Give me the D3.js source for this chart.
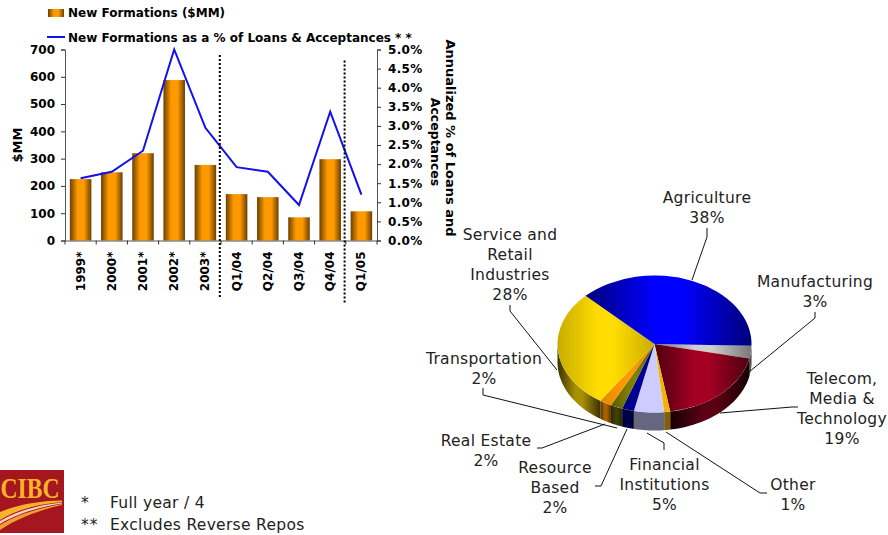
<!DOCTYPE html>
<html>
<head>
<meta charset="utf-8">
<script src="https://cdn.jsdelivr.net/npm/d3@7"></script>
<style>
  html, body { margin: 0; padding: 0; background: #fff; }
  svg { display: block; }
  text { font-family: "DejaVu Sans", Verdana, sans-serif; fill: #000; }
  .bold { font-weight: bold; font-size: 12px; }
  .pieLabel { font-size: 15.5px; letter-spacing: 0.3px; fill: #222; text-anchor: middle; }
  .note { font-size: 15.5px; letter-spacing: 0.3px; fill: #222; }
</style>
</head>
<body>
<svg id="chart" width="888" height="535"></svg>
<script>
// bar + line chart
var periods = ['1999*', '2000*', '2001*', '2002*', '2003*', 'Q1/04', 'Q2/04', 'Q3/04', 'Q4/04', 'Q1/05'];
var newFormations = [225, 250, 320, 588, 277, 170, 159, 85, 298, 107];
var pctOfLoans = [1.63, 1.8, 2.35, 5.0, 2.95, 1.92, 1.8, 0.93, 3.37, 1.2];
var leftTicks = [0, 100, 200, 300, 400, 500, 600, 700];
var rightTicks = [0, 0.5, 1, 1.5, 2, 2.5, 3, 3.5, 4, 4.5, 5];

// pie, clockwise from the east side
var sectors = ['Manufacturing', 'Telecom', 'Other', 'Financial', 'Resource', 'RealEstate', 'Transportation', 'Service', 'Agriculture'];
var sectorShare = [3, 19, 1, 5, 2, 2, 2, 28, 38];
var sectorBright = ['#cfcfcf', '#a30022', '#f2b400', '#ccccff', '#000099', '#808000', '#ff9900', '#ffdd00', '#0000ff'];
var sectorEdge = ['#777777', '#4d0010', '#f2b400', '#ccccff', '#000077', '#5a5a00', '#e08800', '#c8ac00', '#00007a'];
var wallBright = ['#555555', '#5c0014', '#80600a', '#66667f', '#00004d', '#404000', '#a86400', '#a89000', '#00007a'];
var wallEdge = ['#222222', '#160004', '#80600a', '#66667f', '#000033', '#282800', '#5a3400', '#3a3000', '#000040'];

var pieLabels = [
  { lines: ['Agriculture', '38%'], x: 707, y: 203 },
  { lines: ['Manufacturing', '3%'], x: 815, y: 287 },
  { lines: ['Telecom,', 'Media &', 'Technology', '19%'], x: 842, y: 384 },
  { lines: ['Other', '1%'], x: 793, y: 490 },
  { lines: ['Financial', 'Institutions', '5%'], x: 664.5, y: 470 },
  { lines: ['Resource', 'Based', '2%'], x: 555, y: 473 },
  { lines: ['Real Estate', '2%'], x: 486, y: 446 },
  { lines: ['Transportation', '2%'], x: 484, y: 364 },
  { lines: ['Service and', 'Retail', 'Industries', '28%'], x: 510, y: 240 }
];

var leaders = [
  [[692, 280], [707, 237], [707, 228]],
  [[749, 372], [815, 318], [815, 312]],
  [[720, 413], [792, 407], [798, 407]],
  [[666, 432], [760, 493], [767, 493]],
  [[647, 433], [664, 443], [664, 450]],
  [[627, 429], [601, 486], [595, 486]],
  [[605, 424], [542, 448], [537, 448]],
  [[617, 428], [483, 395], [483, 388]],
  [[557, 370], [510, 311], [510, 305]]
];

var svg = d3.select('#chart');
var defs = svg.append('defs');

function addGradient(id, edge, bright, from, to) {
  var g = defs.append('linearGradient').attr('id', id).attr('x1', 0).attr('x2', 1).attr('y1', 0).attr('y2', 0);
  g.append('stop').attr('offset', 0).attr('stop-color', edge);
  g.append('stop').attr('offset', from).attr('stop-color', bright);
  g.append('stop').attr('offset', to).attr('stop-color', bright);
  g.append('stop').attr('offset', 1).attr('stop-color', edge);
}

// --- bars and line ---
var margin = { left: 65, right: 377, top: 49.5, bottom: 240.5 };

var x = d3.scaleBand().domain(periods).range([margin.left, margin.right]).paddingInner(0.31).paddingOuter(0.155);
var yLeft = d3.scaleLinear().domain([0, 700]).range([margin.bottom, margin.top]);
var yRight = d3.scaleLinear().domain([0, 5]).range([margin.bottom, margin.top]);

addGradient('barFill', '#6b4000', '#ff9900', 0.36, 0.66);

svg.selectAll('.bar')
  .data(newFormations)
  .enter().append('rect')
  .attr('class', 'bar')
  .attr('x', function(d, i) { return x(periods[i]); })
  .attr('y', function(d) { return yLeft(d); })
  .attr('width', x.bandwidth())
  .attr('height', function(d) { return yLeft(0) - yLeft(d); })
  .attr('fill', 'url(#barFill)');

var line = d3.line()
  .x(function(d, i) { return x(periods[i]) + x.bandwidth() / 2; })
  .y(function(d) { return yRight(d); });

svg.append('path')
  .datum(pctOfLoans)
  .attr('d', line)
  .attr('fill', 'none')
  .attr('stroke', '#1010f0')
  .attr('stroke-width', 2);

var leftAxis = svg.append('g')
  .attr('transform', 'translate(' + margin.left + ',0)')
  .call(d3.axisLeft(yLeft).tickValues(leftTicks).tickSize(4).tickPadding(6).tickFormat(d3.format('d')));

var rightAxis = svg.append('g')
  .attr('transform', 'translate(' + margin.right + ',0)')
  .call(d3.axisRight(yRight).tickValues(rightTicks).tickSize(4).tickPadding(7).tickFormat(function(d) { return d.toFixed(1) + '%'; }));

// category ticks sit between the bars, so the labels and the tick marks are separate
var bottomAxis = svg.append('g')
  .attr('transform', 'translate(0,' + margin.bottom + ')')
  .call(d3.axisBottom(x).tickSize(0).tickPadding(11));

bottomAxis.selectAll('text')
  .attr('transform', 'rotate(-90)')
  .attr('text-anchor', 'end')
  .attr('dx', '-11px')
  .attr('dy', '0')
  .attr('x', 0)
  .attr('y', 4);

bottomAxis.selectAll('.tickMark')
  .data(d3.range(periods.length + 1))
  .enter().append('line')
  .attr('class', 'tickMark')
  .attr('x1', function(d) { return margin.left + d * x.step(); })
  .attr('x2', function(d) { return margin.left + d * x.step(); })
  .attr('y1', 0)
  .attr('y2', 4)
  .attr('stroke', '#333');

[leftAxis, rightAxis, bottomAxis].forEach(function(a) {
  a.attr('font-family', null).attr('font-size', null);
  a.selectAll('text').attr('class', 'bold');
  a.selectAll('.domain').attr('stroke', '#555');
  a.selectAll('.tick line').attr('stroke', '#333');
});
rightAxis.selectAll('text').style('letter-spacing', '0.3px');

// dotted separators
[[5, 55, 299], [9, 60.5, 304]].forEach(function(s) {
  svg.append('line')
    .attr('x1', margin.left + s[0] * x.step() - 1.2)
    .attr('x2', margin.left + s[0] * x.step() - 1.2)
    .attr('y1', s[1])
    .attr('y2', s[2])
    .attr('stroke', '#000')
    .attr('stroke-width', 2)
    .attr('stroke-dasharray', '2 2');
});

// axis titles
svg.append('text').attr('class', 'bold')
  .style('font-size', '13px')
  .attr('transform', 'translate(21.5,145) rotate(-90)')
  .attr('text-anchor', 'middle')
  .text('$MM');

svg.append('text').attr('class', 'bold')
  .style('font-size', '13px')
  .attr('transform', 'translate(446,138) rotate(90)')
  .attr('text-anchor', 'middle')
  .text('Annualized % of Loans and');

svg.append('text').attr('class', 'bold')
  .style('font-size', '12.5px')
  .attr('transform', 'translate(431,142) rotate(90)')
  .attr('text-anchor', 'middle')
  .text('Acceptances');

// legend
svg.append('rect')
  .attr('x', 48).attr('y', 9).attr('width', 16).attr('height', 8)
  .attr('fill', 'url(#barFill)');
svg.append('text').attr('class', 'bold').attr('x', 68).attr('y', 17).text('New Formations ($MM)');

svg.append('line')
  .attr('x1', 47).attr('x2', 65).attr('y1', 37).attr('y2', 37)
  .attr('stroke', '#1010f0').attr('stroke-width', 2);
svg.append('text').attr('class', 'bold').attr('x', 68).attr('y', 42).text('New Formations as a % of Loans & Acceptances * *');

// --- 3D pie ---
var cx = 654.5, cy = 344, rx = 97, ry = 68.5, depth = 18;

var pie = d3.pie().sort(null)
  .startAngle(Math.PI / 2 + 0.026)
  .endAngle(Math.PI * 2.5 + 0.026);
var slices = pie(sectorShare);

sectors.forEach(function(name, i) {
  addGradient('top' + name, sectorEdge[i], sectorBright[i], 0.42, 0.58);
  addGradient('wall' + name, wallEdge[i], wallBright[i], 0.42, 0.58);
});

var wall = d3.area()
  .x(function(a) { return cx + rx * Math.sin(a); })
  .y0(function(a) { return cy - ry * Math.cos(a); })
  .y1(function(a) { return cy - ry * Math.cos(a) + depth; });

// only the front half of the rim shows (d3 angles between 90 and 270 degrees)
slices.forEach(function(s, i) {
  var from = Math.max(s.startAngle, Math.PI / 2);
  var to = Math.min(s.endAngle, Math.PI * 1.5);
  if (to <= from) return;
  svg.append('path')
    .attr('d', wall(d3.range(0, 25).map(function(k) { return from + (to - from) * k / 24; })))
    .attr('fill', 'url(#wall' + sectors[i] + ')');
});

var arc = d3.arc().innerRadius(0).outerRadius(rx);

var pieGroup = svg.append('g')
  .attr('transform', 'translate(' + cx + ',' + cy + ') scale(1,' + (ry / rx) + ')');

pieGroup.selectAll('.slice')
  .data(slices)
  .enter().append('path')
  .attr('class', 'slice')
  .attr('d', arc)
  .attr('fill', function(d, i) { return 'url(#top' + sectors[i] + ')'; });

// leaders
var leaderLine = d3.line();
leaders.forEach(function(l) {
  svg.append('path').attr('d', leaderLine(l)).attr('fill', 'none').attr('stroke', '#111').attr('stroke-width', 1);
});

// pie labels
pieLabels.forEach(function(l) {
  var t = svg.append('text').attr('class', 'pieLabel').attr('x', l.x).attr('y', l.y);
  l.lines.forEach(function(s, i) {
    t.append('tspan').attr('x', l.x).attr('dy', i === 0 ? 0 : 20).text(s);
  });
});

// --- logo ---
var logo = svg.append('g');
logo.append('rect').attr('x', 0).attr('y', 470).attr('width', 64).attr('height', 63).attr('fill', '#a5161f');
logo.append('text')
  .attr('x', 0.5).attr('y', 498)
  .style('font-family', '"Liberation Serif", serif')
  .style('font-size', '30px')
  .style('font-weight', 'bold')
  .style('fill', '#f7b32b')
  .attr('textLength', 59)
  .attr('lengthAdjust', 'spacingAndGlyphs')
  .text('CIBC');
logo.append('path')
  .attr('d', 'M0,520 C18,509 40,504 62,502 L62,500.5 C38,501 16,505 0,512 Z')
  .attr('fill', '#f7b32b');
logo.append('path')
  .attr('d', 'M0,524 C18,513 40,507 62,503.5 L62,502.5 C40,505 18,510 0,521 Z')
  .attr('fill', '#f4d0c0');
logo.append('path')
  .attr('d', 'M0,530 C18,518 40,510 62,505 L62,504 C40,508 18,514 0,525 Z')
  .attr('fill', '#f0a030');

// --- footnotes ---
[['*', 'Full year / 4', 508], ['**', 'Excludes Reverse Repos', 530]].forEach(function(f) {
  svg.append('text').attr('class', 'note').attr('x', 81).attr('y', f[2]).style('letter-spacing', '1px').text(f[0]);
  svg.append('text').attr('class', 'note').attr('x', 110).attr('y', f[2]).text(f[1]);
});
</script>
</body>
</html>
